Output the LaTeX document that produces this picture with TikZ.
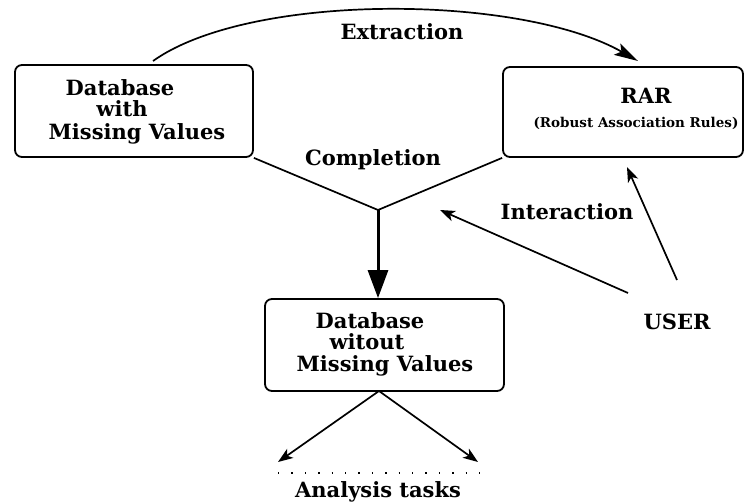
\documentclass[tikz,border=0pt]{standalone}
\usepackage{fontspec}
\setmainfont{DejaVu Serif}
\usetikzlibrary{arrows.meta}
\begin{document}
\begin{tikzpicture}[x=1pt,y=-1pt,
  box/.style={draw,line width=1.8pt,rounded corners=7pt,inner sep=0pt},
  lbl/.style={inner sep=0pt,font=\fontsize{21}{24}\selectfont\bfseries},
  ln/.style={line width=1.7pt},
  smallarrow/.style={ln,-{Stealth[length=15pt,width=11pt,inset=4pt]}}]
\useasboundingbox (0,0) rectangle (744,502);
% boxes
\node[box,minimum width=238pt,minimum height=92pt] (db1) at (134,111) {};
\node[box,minimum width=240pt,minimum height=90pt] (rar) at (623,112) {};
\node[box,minimum width=239pt,minimum height=92pt] (db2) at (384.5,345) {};
% box texts
\node[lbl] (t1a) at (120,88) {Database};
\node[lbl] (t1b) at (122,109) {with};
\node[lbl] (t1c) at (137,134) {Missing Values};
\node[lbl] (t2a) at (646,96) {RAR};
\node[inner sep=0pt,font=\fontsize{13.5}{16}\selectfont\bfseries] (t2b) at (636,123) {(Robust Association Rules)};
\node[lbl] (t3a) at (370,321) {Database};
\node[lbl] (t3b) at (367,342) {witout};
\node[lbl] (t3c) at (385,366) {Missing Values};
% labels
\node[lbl] (ext) at (402,32) {Extraction};
\node[lbl] (comp) at (373,160) {Completion};
\node[lbl] (inter) at (567,212) {Interaction};
\node[lbl] (user) at (677,322) {USER};
\node[lbl] (ana) at (378,492) {Analysis tasks};
% coordinates
\coordinate (es) at (153,61);
\coordinate (ee) at (638,61);
\coordinate (junc) at (378,210);
\coordinate (u1) at (677,280);
\coordinate (u1e) at (627,167);
\coordinate (u2) at (628,293);
\coordinate (u2e) at (440,210);
\coordinate (bot) at (379,391);
\coordinate (al) at (278,462);
\coordinate (ar) at (478,462);
\coordinate (dl) at (278,473);
\coordinate (dr) at (480,473);
% connectors
\draw[ln,-{Stealth[length=24pt,width=13pt,inset=5pt]}] (es) .. controls (250,-8) and (520,-6) .. (ee);
\draw[ln] (db1.south east) -- (junc) -- (rar.south west);
\draw[line width=3pt,-{Triangle[length=28pt,width=20pt]}] (junc) -- (junc |- db2.north);
\draw[smallarrow] (u1) -- (u1e);
\draw[smallarrow] (u2) -- (u2e);
\draw[smallarrow] (bot) -- (al);
\draw[smallarrow] (bot) -- (ar);
\draw[line width=1.4pt,dash pattern=on 1.4pt off 12pt] (dl) -- (dr);
\end{tikzpicture}
\end{document}
